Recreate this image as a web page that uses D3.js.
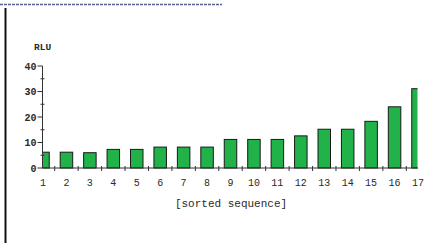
<!DOCTYPE html>
<html>
<head>
<meta charset="utf-8">
<script src="https://cdn.jsdelivr.net/npm/d3@7"></script>
<style>
  body { margin: 0; background: #fff; }
  svg { display: block; }
  .lbl { font-family: "Liberation Mono", "DejaVu Sans Mono", monospace; fill: #2a2a2a; }
</style>
</head>
<body>
<div id="chart"></div>
<script>
// sorted sequence positions and RLU values
var categories = d3.range(1, 18);
var rluValues = [6.2, 6.2, 6.0, 7.3, 7.3, 8.2, 8.2, 8.2, 11.2, 11.2, 11.2, 12.6, 15.2, 15.2, 18.3, 24.0, 31.1];
var yTicks = [0, 10, 20, 30, 40];
var yMinorTicks = [5, 15, 25, 35];

var width = 433, height = 243;

var svg = d3.select("#chart").append("svg")
    .attr("width", width)
    .attr("height", height);

    // frame bits around the cut-out: dashed strip at top and the left rule
svg.append("line")
    .attr("x1", 0).attr("x2", 222)
    .attr("y1", 4.5).attr("y2", 4.5)
    .attr("stroke", "#56608a")
    .attr("stroke-width", 1.5)
    .attr("stroke-dasharray", "3,1");
svg.append("line")
    .attr("x1", 5.5).attr("x2", 5.5)
    .attr("y1", 8).attr("y2", height)
    .attr("stroke", "#111")
    .attr("stroke-width", 2);

var plotLeft = 42.5, plotRight = 417.5;

var x = d3.scaleLinear()
    .domain([1, 17])
    .range([43, 418]);
var y = d3.scaleLinear()
    .domain([0, 40])
    .range([168, 66]);

var step = x(2) - x(1);
var barW = 12.5;

    // clip bars to the axis box so first and last bars get cut like the original
svg.append("defs").append("clipPath")
    .attr("id", "plotclip")
    .append("rect")
    .attr("x", plotLeft).attr("y", 0)
    .attr("width", plotRight - plotLeft)
    .attr("height", y(0) + 1);

svg.append("g")
    .attr("clip-path", "url(#plotclip)")
    .selectAll("rect")
    .data(rluValues)
    .enter().append("rect")
    .attr("x", function(d, i) { return x(categories[i]) - barW / 2; })
    .attr("y", function(d) { return y(d); })
    .attr("width", barW)
    .attr("height", function(d) { return y(0) - y(d); })
    .attr("fill", "#22b24a")
    .attr("stroke", "#1a1a1a")
    .attr("stroke-width", 1);

    // y axis
var yAxis = svg.append("g");
yAxis.append("line")
    .attr("x1", plotLeft).attr("x2", plotLeft)
    .attr("y1", y(40)).attr("y2", y(0))
    .attr("stroke", "#333");
yAxis.selectAll(".major")
    .data(yTicks)
    .enter().append("line")
    .attr("x1", plotLeft - 5).attr("x2", plotLeft)
    .attr("y1", function(d) { return y(d); })
    .attr("y2", function(d) { return y(d); })
    .attr("stroke", "#333");
yAxis.selectAll(".minor")
    .data(yMinorTicks)
    .enter().append("line")
    .attr("x1", plotLeft - 2).attr("x2", plotLeft + 2)
    .attr("y1", function(d) { return y(d); })
    .attr("y2", function(d) { return y(d); })
    .attr("stroke", "#333");
yAxis.selectAll("text")
    .data(yTicks)
    .enter().append("text")
    .attr("class", "lbl")
    .attr("x", plotLeft - 6)
    .attr("y", function(d) { return y(d) + 3.5; })
    .attr("text-anchor", "end")
    .attr("font-size", 10)
    .attr("font-weight", "bold")
    .text(function(d) { return d; });

    // x axis
var xAxis = svg.append("g");
xAxis.append("line")
    .attr("x1", plotLeft).attr("x2", x(17))
    .attr("y1", y(0)).attr("y2", y(0))
    .attr("stroke", "#333");
xAxis.selectAll(".tick")
    .data(categories.slice(0, -1))
    .enter().append("line")
    .attr("x1", function(d) { return x(d) + step / 2; })
    .attr("x2", function(d) { return x(d) + step / 2; })
    .attr("y1", y(0) - 2).attr("y2", y(0) + 3)
    .attr("stroke", "#333");
xAxis.selectAll("text")
    .data(categories)
    .enter().append("text")
    .attr("class", "lbl")
    .attr("x", function(d) { return x(d); })
    .attr("y", 186)
    .attr("text-anchor", "middle")
    .attr("font-size", 10)
    .text(function(d) { return d; });

    // axis titles
svg.append("text")
    .attr("class", "lbl")
    .attr("x", 34)
    .attr("y", 50)
    .attr("font-size", 9.5)
    .attr("font-weight", "bold")
    .text("RLU");
svg.append("text")
    .attr("class", "lbl")
    .attr("x", 231)
    .attr("y", 207)
    .attr("text-anchor", "middle")
    .attr("font-size", 11)
    .text("[sorted sequence]");
</script>
</body>
</html>
